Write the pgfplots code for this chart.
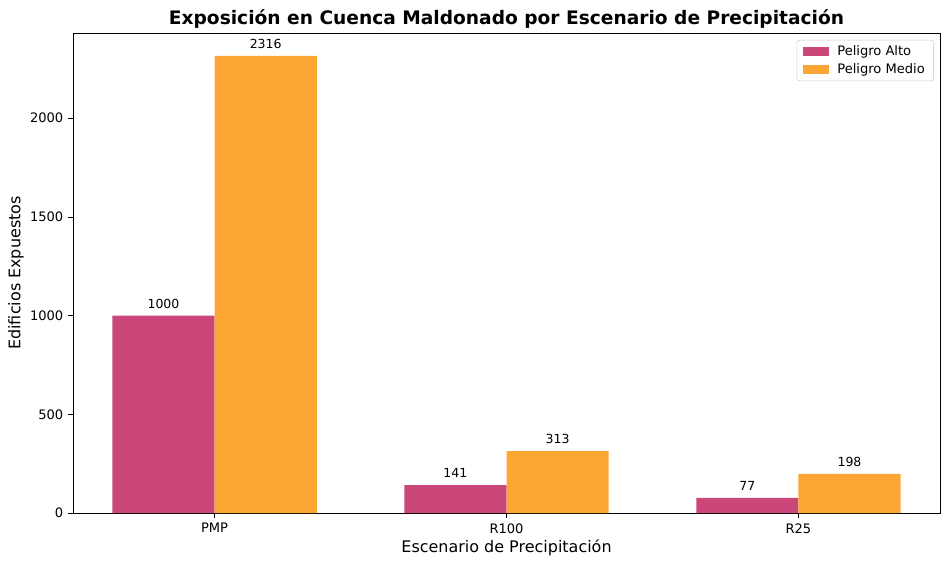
\documentclass[border=0pt]{standalone}
\usepackage{fontspec}
\setmainfont{DejaVu Sans}
\usepackage{pgfplots}
\pgfplotsset{compat=1.18}
\definecolor{cpink}{RGB}{203,71,121}
\definecolor{corange}{RGB}{252,166,54}
\begin{document}
\begin{tikzpicture}
\path[use as bounding box] (-52.56pt,-38.14pt) rectangle (631.44pt,369.36pt);
\begin{axis}[
  at={(0,0)}, anchor=south west,
  scale only axis, width=624.24pt, height=345.6pt,
  xmin=-0.485, xmax=2.485, ymin=0, ymax=2431.8,
  xtick={0,1,2}, xticklabels={PMP,R100,R25},
  ytick={0,500,1000,1500,2000},
  xtick pos=bottom, ytick pos=left,
  tick align=outside, major tick length=3.5pt,
  tick style={black, line width=0.6pt},
  axis line style={line width=0.6pt},
  /pgf/number format/assume math mode=true,
  /pgf/number format/1000 sep={},
  ticklabel style={font=\fontsize{9.4}{11}\selectfont},
  xticklabel style={yshift=-0.5pt},
  every axis y label/.style={at={(axis description cs:0,0.5)}, xshift=-41pt, rotate=90, anchor=center},
  every axis x label/.style={at={(axis description cs:0.5,0)}, yshift=-25.2pt, anchor=center},
  label style={font=\fontsize{11.5}{13}\selectfont},
  xlabel={Escenario de Precipitación},
  ylabel={Edificios Expuestos},
  every axis title/.style={at={(axis description cs:0.5,1)}, yshift=10.1pt, anchor=center, font=\fontsize{13.4}{15}\selectfont\bfseries},
  title={Exposición en Cuenca Maldonado por Escenario de Precipitación},
  ybar, bar width=0.35,
  nodes near coords,
  every node near coord/.append style={anchor=south, inner sep=0pt, yshift=5pt, font=\fontsize{9}{10}\selectfont, black},
  legend style={at={(axis description cs:1,1)}, xshift=-4.3pt, yshift=-5pt, anchor=north east,
    draw=black!20, rounded corners=2pt, font=\fontsize{9.4}{11}\selectfont,
    inner xsep=4.5pt, inner ysep=2pt, row sep=0pt,
    /tikz/every odd column/.append style={column sep=4pt}},
  legend cell align=left,
  legend image code/.code={\fill[#1, sharp corners] (0pt,-3.25pt) rectangle (18.7pt,3.25pt);},
]
\addplot[fill=cpink, draw=none, bar shift=-0.175] coordinates {(0,1000) (1,141) (2,77)};
\addplot[fill=corange, draw=none, bar shift=0.175] coordinates {(0,2316) (1,313) (2,198)};
\legend{Peligro Alto, Peligro Medio}
\end{axis}
\end{tikzpicture}
\end{document}
